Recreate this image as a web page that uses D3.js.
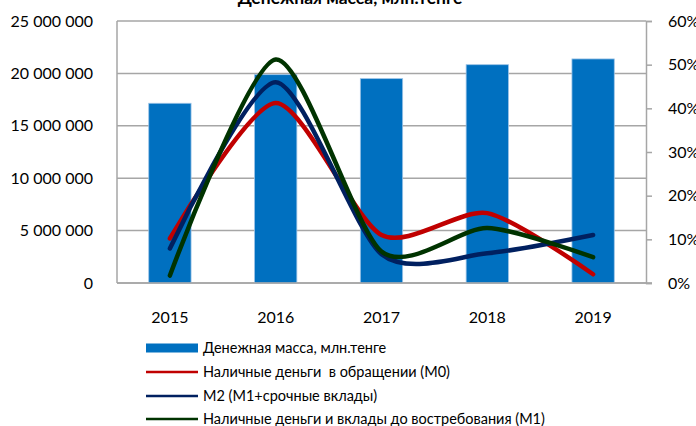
<!DOCTYPE html>
<html>
<head>
<meta charset="utf-8">
<style>
body { margin: 0; background: #fff; }
svg { display: block; font-family: Lato, "Noto Sans", sans-serif; }
.grid line { stroke: #a6a6a6; stroke-width: 1.5px; }
</style>
<script src="https://d3js.org/d3.v7.min.js"></script>
</head>
<body>
<svg id="chart" width="696" height="426"></svg>
<script>
var years = ['2015', '2016', '2017', '2018', '2019'];
var moneySupply = [17150000, 19880000, 19500000, 20830000, 21380000];
var m0 = [0.102, 0.412, 0.110, 0.160, 0.020];
var m2 = [0.079, 0.460, 0.066, 0.068, 0.110];
var m1 = [0.017, 0.512, 0.072, 0.126, 0.059];
var leftTicks = [0, 5000000, 10000000, 15000000, 20000000, 25000000];
var rightTicks = [0, 0.1, 0.2, 0.3, 0.4, 0.5, 0.6];
var title = 'Денежная масса, млн.тенге';
var seriesNames = [
	'Денежная масса, млн.тенге',
	'Наличные деньги  в обращении (М0)',
	'М2 (М1+срочные вклады)',
	'Наличные деньги и вклады до востребования (М1)'
];

var plot = { left: 117, right: 646, top: 21, bottom: 283 };
var svg = d3.select('#chart');

var x = d3.scaleBand().domain(years).range([plot.left, plot.right])
	.paddingInner(0.6).paddingOuter(0.3);
function cx(d) { return x(d) + x.bandwidth() / 2; }

var yLeft = d3.scaleLinear().domain([0, 25000000]).range([plot.bottom, plot.top]);
var yRight = d3.scaleLinear().domain([0, 0.6]).range([plot.bottom, plot.top]);

var fmtLeft = function (d) { return d3.format(',')(d).replace(/,/g, ' '); };
var fmtRight = d3.format('.0%');

// gridlines
svg.append('g').attr('class', 'grid')
	.selectAll('line').data(leftTicks).enter().append('line')
	.attr('x1', plot.left).attr('x2', plot.right)
	.attr('y1', function (d) { return yLeft(d); })
	.attr('y2', function (d) { return yLeft(d); });

// axes lines
svg.append('line').attr('x1', plot.left).attr('x2', plot.left)
	.attr('y1', plot.top).attr('y2', plot.bottom)
	.attr('stroke', '#a6a6a6').attr('stroke-width', 1.5);

var rightAxis = d3.axisRight(yRight).tickValues(rightTicks).tickFormat(fmtRight)
	.tickSize(6).tickPadding(16);
var gR = svg.append('g').attr('transform', 'translate(' + plot.right + ',0)').call(rightAxis);
gR.select('.domain').attr('stroke', '#a6a6a6').attr('stroke-width', 1.5);
gR.selectAll('.tick line').attr('stroke', '#a6a6a6').attr('stroke-width', 1.5);
gR.selectAll('.tick text').attr('font-size', 16).attr('font-family', 'Lato').attr('fill', '#000');

var leftAxis = d3.axisLeft(yLeft).tickValues(leftTicks).tickFormat(fmtLeft)
	.tickSize(0).tickPadding(24);
var gL = svg.append('g').attr('transform', 'translate(' + plot.left + ',0)').call(leftAxis);
gL.select('.domain').remove();
gL.selectAll('.tick text').attr('font-size', 16).attr('font-family', 'Lato').attr('fill', '#000');

// bars
svg.append('g').selectAll('rect').data(moneySupply).enter().append('rect')
	.attr('x', function (d, i) { return x(years[i]); })
	.attr('y', function (d) { return yLeft(d); })
	.attr('width', x.bandwidth())
	.attr('height', function (d) { return yLeft(0) - yLeft(d); })
	.attr('fill', '#0070c0')
	.attr('stroke', '#9cc3e6').attr('stroke-width', 0.8);

// bottom axis line
svg.append('line').attr('x1', plot.left).attr('x2', plot.right + 6)
	.attr('y1', plot.bottom).attr('y2', plot.bottom)
	.attr('stroke', '#a6a6a6').attr('stroke-width', 1.5);

var bottomAxis = d3.axisBottom(x).tickSize(0).tickPadding(29);
var gB = svg.append('g').attr('transform', 'translate(0,' + plot.bottom + ')').call(bottomAxis);
gB.select('.domain').remove();
gB.selectAll('.tick text').attr('font-size', 16).attr('font-family', 'Lato').attr('fill', '#000');

// lines
var lines = [
	{ values: m0, color: '#c00000' },
	{ values: m2, color: '#002060' },
	{ values: m1, color: '#003300' }
];
var line = d3.line()
	.x(function (d, i) { return cx(years[i]); })
	.y(function (d) { return yRight(d); })
	.curve(d3.curveCardinal.tension(0.25));

svg.append('g').selectAll('path').data(lines).enter().append('path')
	.attr('d', function (d) { return line(d.values); })
	.attr('fill', 'none')
	.attr('stroke', function (d) { return d.color; })
	.attr('stroke-width', 4.5)
	.attr('stroke-linecap', 'round');

// title (cut off at the top, as in the original)
svg.append('text').attr('x', 350).attr('y', 4)
	.attr('text-anchor', 'middle').attr('font-weight', 'bold').attr('font-size', 17.5)
	.text(title);

// legend
var legend = svg.append('g');
var rowY = [348, 372, 396, 419];
legend.append('rect').attr('x', 146).attr('y', rowY[0] - 4.5)
	.attr('width', 52).attr('height', 9).attr('fill', '#0070c0');
lines.forEach(function (l, i) {
	legend.append('line').attr('x1', 146).attr('x2', 198)
		.attr('y1', rowY[i + 1]).attr('y2', rowY[i + 1])
		.attr('stroke', l.color).attr('stroke-width', 2.5);
});
legend.selectAll('text').data(seriesNames).enter().append('text')
	.attr('x', 203)
	.attr('y', function (d, i) { return rowY[i]; })
	.attr('dy', '0.35em')
	.attr('font-size', 14.5)
	.attr('xml:space', 'preserve')
	.style('white-space', 'pre')
	.text(function (d) { return d; });
</script>
</body>
</html>
